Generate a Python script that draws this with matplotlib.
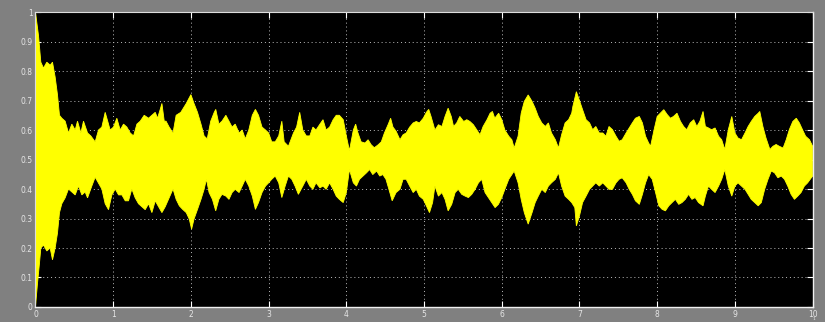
import numpy as np
import matplotlib
matplotlib.use("Agg")
import matplotlib.pyplot as plt

# Upper envelope of the scope trace (time in s, value)
t_upper = [0, 0.039, 0.069, 0.103, 0.146, 0.189, 0.219, 0.253, 0.283, 0.309, 0.339, 0.382,
           0.425, 0.468, 0.511, 0.541, 0.584, 0.618, 0.670, 0.712, 0.768, 0.811, 0.854, 0.897,
           0.940, 0.961, 1.004, 1.047, 1.090, 1.133, 1.176, 1.219, 1.262, 1.305, 1.348, 1.399,
           1.455, 1.498, 1.541, 1.571, 1.605, 1.627, 1.657,
           1.68, 1.72, 1.77, 1.81, 1.87, 1.94, 2.0, 2.04, 2.085, 2.13, 2.17, 2.21, 2.255, 2.30,
           2.32, 2.36, 2.40, 2.45, 2.49, 2.53, 2.57, 2.62, 2.66, 2.70, 2.745, 2.79, 2.83, 2.87,
           2.915, 2.96, 3.0, 3.04, 3.085, 3.13, 3.17, 3.20, 3.255, 3.32, 3.36,
           3.40, 3.44, 3.485, 3.53, 3.57, 3.61, 3.66, 3.70, 3.74, 3.785, 3.83, 3.87, 3.91, 3.96,
           4.0, 4.04, 4.09, 4.12, 4.15, 4.19, 4.24, 4.28, 4.32, 4.36, 4.41, 4.45, 4.49, 4.54,
           4.57, 4.60, 4.64, 4.69, 4.73, 4.77, 4.815, 4.86, 4.90, 4.94, 4.99, 5.03, 5.06, 5.09,
           5.14, 5.185, 5.23, 5.27, 5.31, 5.35, 5.38, 5.42, 5.46, 5.51, 5.55, 5.59, 5.635, 5.68,
           5.72, 5.76, 5.81, 5.85, 5.88, 5.91, 5.96, 6.0, 6.04, 6.09, 6.13, 6.16, 6.21, 6.25,
           6.29, 6.34, 6.39, 6.43, 6.47, 6.515, 6.56, 6.60, 6.64, 6.69, 6.73, 6.77, 6.815, 6.86,
           6.90, 6.915, 6.96, 7.0, 7.04, 7.085, 7.13, 7.17, 7.21, 7.255, 7.30, 7.34, 7.38, 7.425,
           7.47, 7.51, 7.55, 7.60, 7.64, 7.68, 7.72, 7.77, 7.81, 7.85, 7.89, 7.915, 7.96, 8.0,
           8.04, 8.085, 8.13, 8.17, 8.21, 8.255, 8.30, 8.34, 8.38, 8.425, 8.47, 8.51,
           8.55, 8.59, 8.62, 8.66, 8.70, 8.745, 8.79, 8.83, 8.87, 8.915, 8.96, 9.0, 9.04, 9.085,
           9.13, 9.17, 9.21, 9.255, 9.30, 9.32, 9.36, 9.40, 9.45, 9.49, 9.53, 9.57, 9.62, 9.66,
           9.70, 9.745, 9.79, 9.83, 9.87, 9.91, 9.96, 10.0]
upper = [1.0, 0.92, 0.83, 0.81, 0.83, 0.82, 0.83, 0.78, 0.72, 0.65, 0.64, 0.63,
         0.59, 0.62, 0.60, 0.63, 0.59, 0.63, 0.59, 0.58, 0.56, 0.60, 0.61, 0.66,
         0.62, 0.60, 0.61, 0.64, 0.60, 0.62, 0.61, 0.59, 0.58, 0.62, 0.63, 0.65,
         0.64, 0.65, 0.66, 0.64, 0.67, 0.69, 0.63,
         0.63, 0.61, 0.59, 0.65, 0.66, 0.69, 0.72, 0.69, 0.66, 0.62, 0.58, 0.57, 0.63, 0.66,
         0.67, 0.62, 0.63, 0.65, 0.63, 0.61, 0.62, 0.59, 0.60, 0.57, 0.60, 0.65, 0.67, 0.65,
         0.61, 0.60, 0.59, 0.56, 0.56, 0.58, 0.63, 0.56, 0.545, 0.59, 0.61,
         0.66, 0.60, 0.58, 0.58, 0.61, 0.60, 0.62, 0.635, 0.60, 0.61, 0.635, 0.65, 0.65, 0.635,
         0.58, 0.53, 0.60, 0.62, 0.59, 0.56, 0.556, 0.567, 0.55, 0.54, 0.55, 0.56, 0.59, 0.62,
         0.64, 0.61, 0.596, 0.567, 0.584, 0.59, 0.61, 0.624, 0.629, 0.624, 0.64, 0.66, 0.67, 0.646,
         0.60, 0.618, 0.612, 0.646, 0.674, 0.646, 0.612, 0.624, 0.646, 0.629, 0.635, 0.629, 0.618, 0.60,
         0.584, 0.612, 0.635, 0.657, 0.663, 0.64, 0.657, 0.635, 0.60, 0.579, 0.567, 0.539, 0.579, 0.657,
         0.697, 0.719, 0.697, 0.674, 0.646, 0.624, 0.612, 0.624, 0.59, 0.567, 0.539, 0.584, 0.624, 0.635,
         0.657, 0.68, 0.73, 0.70, 0.669, 0.635, 0.624, 0.601, 0.612, 0.59, 0.59, 0.579, 0.612, 0.601,
         0.579, 0.562, 0.567, 0.59, 0.607, 0.624, 0.64, 0.646, 0.624, 0.579, 0.556, 0.545, 0.601, 0.646,
         0.657, 0.669, 0.652, 0.64, 0.646, 0.657, 0.629, 0.612, 0.601, 0.624, 0.635, 0.612,
         0.63, 0.663, 0.612, 0.607, 0.601, 0.607, 0.579, 0.567, 0.534, 0.601, 0.646, 0.59, 0.573, 0.567,
         0.59, 0.612, 0.629, 0.646, 0.657, 0.663, 0.612, 0.573, 0.534, 0.545, 0.551, 0.545, 0.539, 0.567,
         0.601, 0.629, 0.64, 0.624, 0.601, 0.579, 0.567, 0.545]

# Lower envelope
t_lower = [0, 0.026, 0.052, 0.069, 0.103, 0.146, 0.189, 0.219, 0.253, 0.283, 0.309, 0.339,
           0.382, 0.425, 0.468, 0.511, 0.554, 0.597, 0.639, 0.670, 0.725, 0.768, 0.811, 0.854,
           0.897, 0.940, 0.983, 1.026, 1.069, 1.112, 1.155, 1.197, 1.240, 1.283, 1.326, 1.369,
           1.412, 1.455, 1.498, 1.541, 1.584, 1.627, 1.670,
           1.72, 1.77, 1.81, 1.851, 1.894, 1.94, 1.979, 2.009, 2.04, 2.085, 2.13, 2.17, 2.20, 2.234,
           2.277, 2.319, 2.36, 2.40, 2.45, 2.49, 2.53, 2.57, 2.62, 2.66, 2.70, 2.745, 2.79, 2.83,
           2.87, 2.915, 2.96, 3.0, 3.04, 3.085, 3.13, 3.17, 3.213, 3.255, 3.298, 3.34, 3.383,
           3.44, 3.485, 3.53, 3.57, 3.61, 3.66, 3.70, 3.74, 3.785, 3.83, 3.87, 3.91, 3.96, 4.0,
           4.04, 4.09, 4.13, 4.17, 4.215, 4.26, 4.30, 4.34, 4.39, 4.43, 4.47, 4.51, 4.56, 4.59,
           4.64, 4.69, 4.73, 4.77, 4.815, 4.86, 4.90, 4.94, 4.99, 5.03, 5.07, 5.11,
           5.14, 5.185, 5.23, 5.27, 5.31, 5.356, 5.40, 5.44, 5.485, 5.528, 5.571, 5.614, 5.657, 5.70,
           5.742, 5.785, 5.828, 5.871, 5.914, 5.957, 6.0, 6.04, 6.09, 6.13, 6.16, 6.21, 6.25, 6.29,
           6.34, 6.39, 6.43, 6.47, 6.515, 6.56, 6.60, 6.64, 6.69, 6.73, 6.77, 6.815, 6.86, 6.90,
           6.94, 6.96, 7.0, 7.04, 7.085, 7.13, 7.17, 7.21, 7.255, 7.30, 7.34, 7.38, 7.425, 7.47,
           7.51, 7.55, 7.60, 7.64, 7.68, 7.72, 7.77, 7.81, 7.85, 7.89, 7.936, 7.979, 8.021, 8.064,
           8.106, 8.149, 8.191, 8.234, 8.277, 8.319, 8.362, 8.404, 8.447, 8.489, 8.532,
           8.59, 8.62, 8.66, 8.70, 8.745, 8.79, 8.83, 8.87, 8.915, 8.96, 9.0, 9.04, 9.085, 9.13,
           9.17, 9.21, 9.255, 9.30, 9.34, 9.383, 9.426, 9.468, 9.51, 9.553, 9.596, 9.638, 9.68,
           9.723, 9.766, 9.809, 9.851, 9.894, 9.936, 10.0]
lower = [0.0, 0.08, 0.15, 0.20, 0.21, 0.19, 0.20, 0.16, 0.20, 0.25, 0.32, 0.35,
         0.37, 0.40, 0.39, 0.38, 0.41, 0.38, 0.39, 0.37, 0.41, 0.44, 0.42, 0.40,
         0.35, 0.33, 0.38, 0.40, 0.38, 0.38, 0.36, 0.36, 0.40, 0.37, 0.35, 0.34,
         0.33, 0.35, 0.32, 0.36, 0.34, 0.32, 0.34,
         0.37, 0.40, 0.365, 0.343, 0.331, 0.32, 0.298, 0.264, 0.298, 0.331, 0.365, 0.399, 0.433, 0.388,
         0.365, 0.326, 0.365, 0.382, 0.376, 0.365, 0.388, 0.399, 0.388, 0.41, 0.433, 0.41, 0.376, 0.331,
         0.354, 0.388, 0.41, 0.421, 0.433, 0.444, 0.421, 0.371, 0.41, 0.444, 0.433, 0.41, 0.382,
         0.41, 0.433, 0.41, 0.399, 0.421, 0.404, 0.41, 0.399, 0.421, 0.399, 0.376, 0.365, 0.354, 0.388,
         0.466, 0.421, 0.41, 0.433, 0.444, 0.455, 0.466, 0.449, 0.461, 0.444, 0.449, 0.433, 0.388, 0.36,
         0.388, 0.399, 0.433, 0.433, 0.41, 0.388, 0.399, 0.376, 0.365, 0.343, 0.32, 0.354,
         0.41, 0.376, 0.388, 0.365, 0.326, 0.348, 0.388, 0.399, 0.382, 0.376, 0.371, 0.382, 0.399, 0.421,
         0.433, 0.388, 0.371, 0.354, 0.337, 0.348, 0.371, 0.399, 0.433, 0.449, 0.461, 0.421, 0.365, 0.32,
         0.281, 0.32, 0.354, 0.376, 0.399, 0.388, 0.41, 0.421, 0.433, 0.455, 0.41, 0.376, 0.365, 0.354,
         0.337, 0.275, 0.309, 0.354, 0.376, 0.399, 0.41, 0.421, 0.41, 0.421, 0.41, 0.399, 0.399, 0.421,
         0.433, 0.438, 0.421, 0.399, 0.382, 0.36, 0.348, 0.382, 0.421, 0.449, 0.433, 0.388, 0.343, 0.331,
         0.326, 0.343, 0.354, 0.365, 0.348, 0.354, 0.365, 0.382, 0.365, 0.371, 0.354,
         0.343, 0.376, 0.41, 0.399, 0.388, 0.41, 0.433, 0.466, 0.41, 0.376, 0.41, 0.421, 0.41, 0.399,
         0.382, 0.365, 0.354, 0.343, 0.354, 0.399, 0.433, 0.461, 0.455, 0.438, 0.444, 0.433, 0.41,
         0.382, 0.365, 0.376, 0.388, 0.41, 0.421, 0.444]

x_ticks = list(range(0, 11))
y_ticks = [0, 0.1, 0.2, 0.3, 0.4, 0.5, 0.6, 0.7, 0.8, 0.9, 1]
y_labels = ["0", "0.1", "0.2", "0.3", "0.4", "0.5", "0.6", "0.7", "0.8", "0.9", "1"]

fig = plt.figure(figsize=(8.25, 3.22), dpi=100, facecolor="#808080")
ax = fig.add_axes([0.043, 0.0466, 0.942, 0.916])
ax.set_facecolor("black")

# envelope polygon: upper edge forward, lower edge backward
xs = np.concatenate([t_upper, t_lower[::-1]])
ys = np.concatenate([upper, lower[::-1]])
ax.fill(xs, ys, color="#ffff00", lw=0.6, ec="#ffff00", zorder=2)

ax.set_xlim(0, 10)
ax.set_ylim(0, 1)
ax.set_xticks(x_ticks)
ax.set_xticklabels([str(v) for v in x_ticks])
ax.set_yticks(y_ticks)
ax.set_yticklabels(y_labels)

ax.grid(True, color="#bbbbbb", linestyle=(0, (1, 3)), linewidth=0.7, zorder=1)
ax.tick_params(axis="both", colors="white", labelcolor="#e6e6e6", labelsize=5.5,
               direction="in", length=4, width=0.8, pad=2)
ax.tick_params(axis="y", right=True)
ax.tick_params(axis="x", top=True)
for side in ["left", "top"]:
    ax.spines[side].set_color("#dddddd")
    ax.spines[side].set_linewidth(0.8)
for side in ["bottom", "right"]:
    ax.spines[side].set_color("#f0f0f0")
    ax.spines[side].set_linewidth(1.0)

# small marker below the last tick label
fig.text(0.986, 0.002, "1", color="#e6e6e6", fontsize=3.2, ha="center", va="bottom")

fig.savefig("out.png", dpi=100, facecolor=fig.get_facecolor())
